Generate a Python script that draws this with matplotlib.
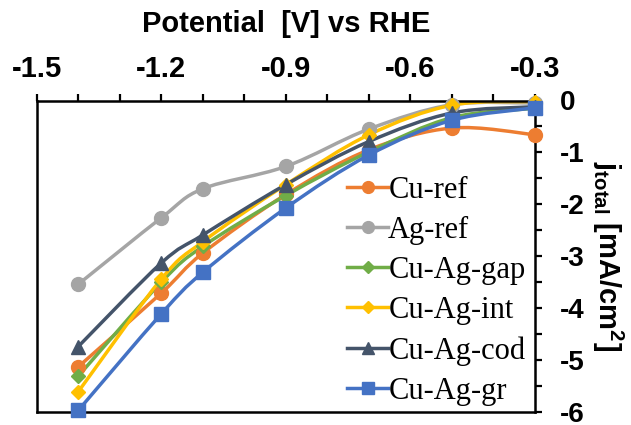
import numpy as np
import matplotlib
matplotlib.use('Agg')
import matplotlib.pyplot as plt
from matplotlib.path import Path
from matplotlib.patches import PathPatch
from matplotlib.lines import Line2D
from matplotlib.ticker import FixedLocator, MultipleLocator

# ---------------- data ----------------
potential = [-1.4, -1.2, -1.1, -0.9, -0.7, -0.5, -0.3]
cu_ref    = [-5.13, -3.71, -2.94, -1.81, -0.95, -0.53, -0.66]
ag_ref    = [-3.54, -2.26, -1.70, -1.27, -0.55, -0.08, -0.05]
cu_ag_gap = [-5.31, -3.50, -2.81, -1.83, -0.99, -0.33, -0.15]
cu_ag_int = [-5.61, -3.44, -2.72, -1.62, -0.66, -0.09, -0.02]
cu_ag_cod = [-4.74, -3.13, -2.59, -1.62, -0.79, -0.24, -0.12]
cu_ag_gr  = [-5.97, -4.11, -3.31, -2.07, -1.05, -0.38, -0.14]

series_labels = ["Cu-ref", "Ag-ref", "Cu-Ag-gap", "Cu-Ag-int", "Cu-Ag-cod", "Cu-Ag-gr"]
series_values = [cu_ref, ag_ref, cu_ag_gap, cu_ag_int, cu_ag_cod, cu_ag_gr]

x_ticks = [-1.5, -1.2, -0.9, -0.6, -0.3]
x_tick_labels = ["-1.5", "-1.2", "-0.9", "-0.6", "-0.3"]
y_ticks = [0, -1, -2, -3, -4, -5, -6]
y_tick_labels = ["0", "-1", "-2", "-3", "-4", "-5", "-6"]

# ---------------- style ----------------
colors = ["#ED7D31", "#A5A5A5", "#70AD47", "#FFC000", "#44546A", "#4472C4"]
markers = ["o", "o", "D", "D", "^", "s"]
msizes = [10, 10, 7, 7, 10, 10]

plt.rcParams['font.family'] = ['Liberation Sans', 'DejaVu Sans']
plt.rcParams['mathtext.fontset'] = 'custom'
plt.rcParams['mathtext.rm'] = 'Liberation Sans:bold'
plt.rcParams['mathtext.bf'] = 'Liberation Sans:bold'
plt.rcParams['mathtext.it'] = 'Liberation Sans:bold'


def smooth_path(x, y):
    pts = np.column_stack([x, y]).astype(float)
    n = len(pts)
    verts = [pts[0]]
    codes = [Path.MOVETO]
    for i in range(n - 1):
        p0 = pts[i - 1] if i > 0 else pts[i]
        p1 = pts[i]
        p2 = pts[i + 1]
        p3 = pts[i + 2] if i + 2 < n else pts[i + 1]
        c1 = p1 + (p2 - p0) / 6.0
        c2 = p2 - (p3 - p1) / 6.0
        verts += [c1, c2, p2]
        codes += [Path.CURVE4] * 3
    return Path(verts, codes)


fig = plt.figure(figsize=(6.31, 4.25), dpi=100)
ax = fig.add_axes([36.7 / 631, 1 - 412 / 425, (535 - 36.7) / 631, (412 - 100.5) / 425])

handles = []
for lab, vals, c, m, ms in zip(series_labels, series_values, colors, markers, msizes):
    patch = PathPatch(smooth_path(potential, vals), facecolor='none', edgecolor=c,
                      lw=2.5, zorder=2, capstyle='round', joinstyle='round')
    ax.add_patch(patch)
    ax.plot(potential, vals, linestyle='none', marker=m, ms=ms, color=c,
            markeredgecolor=c, zorder=3, clip_on=False)
    handles.append(Line2D([], [], color=c, lw=2.5, marker=m, ms=ms * 0.85,
                          markeredgecolor=c))

ax.set_xlim(-1.5, -0.3)
ax.set_ylim(-6, 0)

# x axis on top
ax.xaxis.tick_top()
ax.xaxis.set_label_position('top')
ax.xaxis.set_major_locator(FixedLocator(x_ticks))
ax.set_xticklabels(x_tick_labels)
ax.xaxis.set_minor_locator(MultipleLocator(0.1))
# y axis on right
ax.yaxis.tick_right()
ax.yaxis.set_label_position('right')
ax.yaxis.set_major_locator(FixedLocator(y_ticks))
ax.set_yticklabels(y_tick_labels)
ax.yaxis.set_minor_locator(MultipleLocator(0.5))

ax.tick_params(axis='x', which='both', direction='out', length=5, width=1.6,
               top=True, bottom=False, labeltop=True, labelbottom=False, pad=7.5)
ax.tick_params(axis='y', which='both', direction='out', length=5, width=1.6,
               right=True, left=False, labelright=True, labelleft=False, pad=13)
for lbl in ax.get_xticklabels():
    lbl.set_fontsize(21)
    lbl.set_fontweight('bold')
for lbl in ax.get_yticklabels():
    lbl.set_fontsize(20)
    lbl.set_fontweight('bold')

for sp in ax.spines.values():
    sp.set_linewidth(1.8)
    sp.set_color('black')

ax.set_xlabel("Potential  [V] vs RHE", fontsize=21, fontweight='bold', labelpad=17)
ax.set_ylabel(r"$\mathbf{j}_{\mathbf{total}}$ [mA/cm$^{\mathbf{2}}$]", fontsize=21,
              fontweight='bold', rotation=-90, va='center', ha='center')
ax.yaxis.set_label_coords((608 - 36.7) / (535 - 36.7), 0.5)

leg = ax.legend(handles, series_labels, loc='upper left',
                bbox_to_anchor=(347 / 631, 1 - 176 / 425), bbox_transform=fig.transFigure,
                frameon=False, prop={'family': 'Liberation Serif', 'size': 22},
                handlelength=1.35, handletextpad=0.0, labelspacing=0.36,
                borderpad=0, borderaxespad=0)

fig.savefig('out.png', dpi=100)
